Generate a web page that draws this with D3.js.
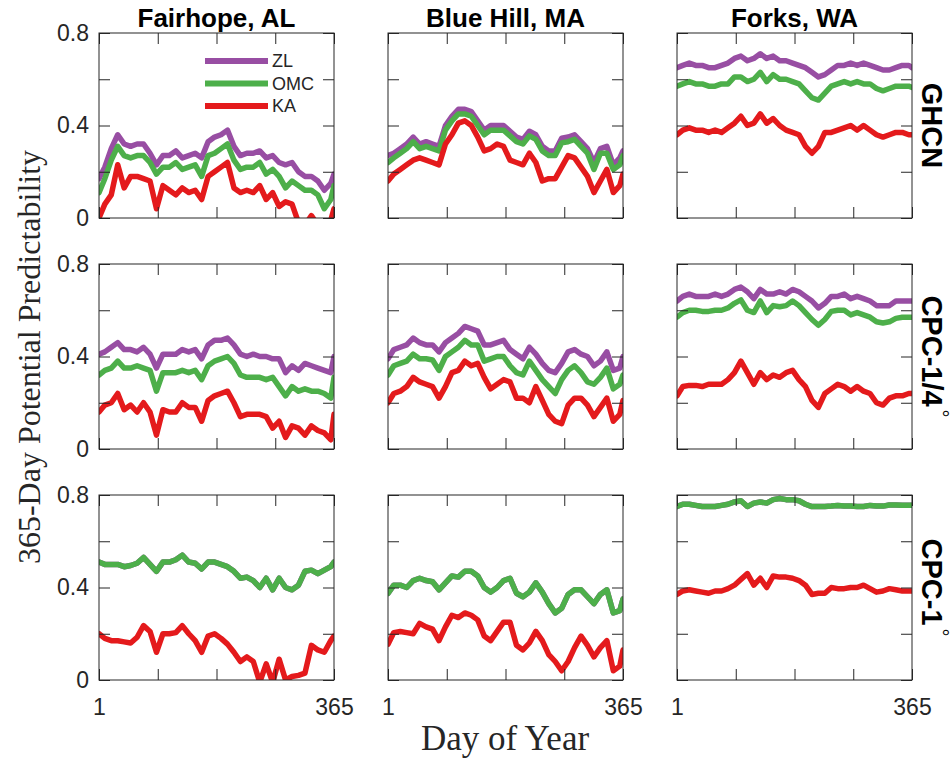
<!DOCTYPE html>
<html>
<head>
<meta charset="utf-8">
<script src="https://cdn.jsdelivr.net/npm/d3@7"></script>
<style>
	body { margin: 0; background: #fff; }
	svg { display: block; }
</style>
</head>
<body>
<div id="chart"></div>
<script>
// sample days (x values) shared by every series
const days = [1, 10, 20, 30, 40, 50, 60, 70, 80, 90, 100, 110, 120, 130, 140, 150, 160, 170, 180, 190, 200, 210, 220, 230, 240, 250, 260, 270, 280, 290, 300, 310, 320, 330, 340, 350, 360, 365];

const sites = ['Fairhope, AL', 'Blue Hill, MA', 'Forks, WA'];
const datasets = ['GHCN', 'CPC-1/4', 'CPC-1'];
const seriesNames = ['ZL', 'OMC', 'KA'];
const yTicks = [0, 0.2, 0.4, 0.6, 0.8];
const xTicks = [1, 92, 183, 274, 365];

// GHCN row
const fairhopeGhcnZL = [0.17,0.22,0.30,0.36,0.32,0.31,0.32,0.32,0.28,0.23,0.27,0.27,0.29,0.26,0.27,0.28,0.26,0.33,0.35,0.36,0.38,0.31,0.27,0.28,0.28,0.29,0.26,0.27,0.24,0.23,0.24,0.20,0.18,0.18,0.16,0.12,0.15,0.19];
const fairhopeGhcnOMC = [0.11,0.17,0.25,0.31,0.27,0.26,0.27,0.27,0.24,0.19,0.22,0.22,0.24,0.21,0.22,0.23,0.18,0.27,0.28,0.30,0.32,0.25,0.21,0.22,0.22,0.24,0.19,0.21,0.18,0.13,0.16,0.14,0.12,0.12,0.10,0.04,0.08,0.14];
const fairhopeGhcnKA = [0.00,0.06,0.10,0.23,0.13,0.18,0.18,0.17,0.16,0.04,0.14,0.12,0.10,0.13,0.11,0.12,0.08,0.18,0.20,0.22,0.24,0.13,0.11,0.12,0.11,0.14,0.08,0.11,0.05,0.07,0.06,-0.02,-0.03,0.01,-0.03,-0.04,-0.01,0.04];

const blueHillGhcnZL = [0.27,0.28,0.30,0.32,0.35,0.32,0.33,0.32,0.31,0.40,0.44,0.47,0.47,0.46,0.42,0.38,0.40,0.40,0.40,0.375,0.35,0.34,0.375,0.36,0.31,0.29,0.29,0.345,0.35,0.36,0.33,0.30,0.24,0.30,0.31,0.23,0.26,0.29];
const blueHillGhcnOMC = [0.24,0.26,0.28,0.30,0.33,0.30,0.31,0.30,0.29,0.38,0.42,0.45,0.45,0.44,0.40,0.36,0.38,0.38,0.38,0.355,0.33,0.32,0.355,0.34,0.29,0.27,0.27,0.325,0.33,0.34,0.31,0.28,0.21,0.28,0.28,0.21,0.23,0.27];
const blueHillGhcnKA = [0.16,0.19,0.21,0.23,0.25,0.26,0.25,0.24,0.23,0.32,0.36,0.41,0.42,0.40,0.35,0.29,0.30,0.32,0.31,0.25,0.24,0.23,0.28,0.24,0.16,0.17,0.17,0.22,0.27,0.26,0.22,0.18,0.11,0.16,0.21,0.11,0.14,0.19];

const forksGhcnZL = [0.65,0.66,0.67,0.66,0.66,0.65,0.65,0.66,0.67,0.69,0.70,0.68,0.69,0.71,0.69,0.70,0.68,0.68,0.67,0.66,0.65,0.63,0.61,0.62,0.64,0.66,0.66,0.67,0.66,0.67,0.66,0.65,0.64,0.64,0.65,0.66,0.66,0.65];
const forksGhcnOMC = [0.57,0.58,0.59,0.58,0.58,0.57,0.57,0.58,0.58,0.61,0.61,0.59,0.60,0.63,0.59,0.62,0.60,0.60,0.59,0.58,0.55,0.52,0.51,0.54,0.57,0.58,0.59,0.58,0.59,0.58,0.58,0.56,0.55,0.56,0.57,0.57,0.57,0.565];
const forksGhcnKA = [0.36,0.38,0.39,0.38,0.38,0.37,0.38,0.37,0.39,0.41,0.44,0.40,0.41,0.45,0.41,0.43,0.40,0.38,0.37,0.36,0.31,0.28,0.31,0.37,0.37,0.38,0.39,0.40,0.38,0.40,0.38,0.36,0.35,0.36,0.37,0.37,0.36,0.36];

// CPC-1/4 deg row
const fairhopeCpcQZL = [0.41,0.42,0.44,0.46,0.43,0.43,0.42,0.44,0.41,0.35,0.41,0.41,0.41,0.43,0.42,0.43,0.39,0.45,0.47,0.47,0.48,0.45,0.41,0.40,0.41,0.40,0.40,0.39,0.39,0.33,0.36,0.34,0.37,0.36,0.35,0.34,0.33,0.40];
const fairhopeCpcQOMC = [0.32,0.34,0.35,0.38,0.35,0.35,0.36,0.35,0.34,0.25,0.33,0.33,0.33,0.34,0.33,0.34,0.30,0.36,0.38,0.39,0.40,0.37,0.32,0.31,0.31,0.31,0.30,0.31,0.27,0.23,0.27,0.25,0.26,0.25,0.25,0.24,0.22,0.31];
const fairhopeCpcQKA = [0.16,0.19,0.20,0.24,0.17,0.19,0.16,0.20,0.16,0.06,0.17,0.16,0.16,0.20,0.18,0.18,0.12,0.21,0.23,0.24,0.25,0.20,0.14,0.15,0.15,0.15,0.14,0.09,0.12,0.05,0.10,0.09,0.06,0.10,0.08,0.07,0.04,0.15];

const blueHillCpcQZL = [0.39,0.43,0.44,0.45,0.48,0.46,0.45,0.45,0.42,0.46,0.48,0.50,0.53,0.52,0.51,0.45,0.45,0.46,0.47,0.43,0.41,0.39,0.44,0.41,0.37,0.34,0.33,0.37,0.42,0.43,0.41,0.40,0.36,0.38,0.42,0.34,0.35,0.40];
const blueHillCpcQOMC = [0.32,0.36,0.37,0.38,0.41,0.39,0.39,0.385,0.34,0.40,0.42,0.44,0.47,0.45,0.45,0.38,0.39,0.40,0.40,0.36,0.33,0.32,0.38,0.34,0.30,0.27,0.24,0.30,0.34,0.36,0.33,0.29,0.28,0.31,0.35,0.26,0.28,0.32];
const blueHillCpcQKA = [0.20,0.24,0.25,0.27,0.31,0.29,0.28,0.27,0.22,0.27,0.33,0.34,0.38,0.36,0.37,0.31,0.26,0.28,0.30,0.29,0.22,0.22,0.20,0.27,0.21,0.15,0.12,0.11,0.19,0.22,0.22,0.19,0.14,0.18,0.22,0.12,0.15,0.21];

const forksCpcQZL = [0.64,0.66,0.67,0.66,0.66,0.66,0.67,0.66,0.67,0.69,0.70,0.68,0.65,0.69,0.67,0.67,0.68,0.67,0.69,0.68,0.66,0.64,0.61,0.63,0.66,0.66,0.67,0.65,0.66,0.65,0.64,0.62,0.62,0.62,0.64,0.64,0.64,0.64];
const forksCpcQOMC = [0.57,0.59,0.60,0.60,0.595,0.595,0.60,0.60,0.61,0.63,0.645,0.60,0.59,0.64,0.59,0.62,0.615,0.62,0.64,0.62,0.59,0.56,0.535,0.56,0.595,0.60,0.60,0.58,0.59,0.58,0.57,0.55,0.545,0.55,0.565,0.57,0.57,0.57];
const forksCpcQKA = [0.23,0.27,0.275,0.275,0.27,0.28,0.28,0.28,0.30,0.33,0.38,0.33,0.28,0.33,0.30,0.32,0.31,0.33,0.34,0.30,0.27,0.21,0.18,0.24,0.26,0.28,0.27,0.25,0.27,0.25,0.24,0.20,0.19,0.22,0.23,0.23,0.24,0.24];

// CPC-1 deg row (ZL sits right under OMC)
const fairhopeCpc1ZL = [0.51,0.50,0.50,0.50,0.49,0.495,0.505,0.53,0.50,0.47,0.51,0.51,0.52,0.54,0.51,0.505,0.48,0.51,0.51,0.50,0.49,0.47,0.44,0.445,0.43,0.40,0.44,0.39,0.44,0.40,0.39,0.41,0.47,0.475,0.46,0.475,0.49,0.51];
const fairhopeCpc1OMC = [0.51,0.50,0.50,0.50,0.49,0.495,0.505,0.53,0.50,0.47,0.51,0.51,0.52,0.54,0.51,0.505,0.48,0.51,0.51,0.50,0.49,0.47,0.44,0.445,0.43,0.40,0.44,0.39,0.44,0.40,0.39,0.41,0.47,0.475,0.46,0.475,0.49,0.51];
const fairhopeCpc1KA = [0.20,0.18,0.17,0.17,0.165,0.16,0.185,0.235,0.21,0.12,0.20,0.20,0.205,0.235,0.20,0.17,0.12,0.19,0.20,0.18,0.155,0.12,0.08,0.10,0.08,-0.01,0.07,-0.01,0.09,0.0,0.015,0.02,0.03,0.15,0.13,0.12,0.17,0.19];

const blueHillCpc1ZL = [0.375,0.41,0.41,0.40,0.43,0.44,0.43,0.425,0.39,0.42,0.45,0.445,0.47,0.47,0.45,0.40,0.38,0.40,0.43,0.44,0.375,0.36,0.38,0.42,0.38,0.33,0.29,0.31,0.37,0.39,0.39,0.36,0.33,0.37,0.39,0.29,0.30,0.35];
const blueHillCpc1OMC = [0.375,0.41,0.41,0.40,0.43,0.44,0.43,0.425,0.39,0.42,0.45,0.445,0.47,0.47,0.45,0.40,0.38,0.40,0.43,0.44,0.375,0.36,0.38,0.42,0.38,0.33,0.29,0.31,0.37,0.39,0.39,0.36,0.33,0.37,0.39,0.29,0.30,0.35];
const blueHillCpc1KA = [0.155,0.205,0.21,0.205,0.20,0.245,0.23,0.22,0.17,0.23,0.28,0.27,0.29,0.28,0.26,0.19,0.17,0.21,0.25,0.25,0.15,0.13,0.16,0.21,0.17,0.11,0.08,0.04,0.08,0.14,0.19,0.15,0.10,0.14,0.17,0.04,0.06,0.13];

const forksCpc1ZL = [0.75,0.76,0.76,0.755,0.75,0.75,0.75,0.755,0.76,0.77,0.775,0.75,0.765,0.77,0.765,0.78,0.785,0.78,0.78,0.775,0.76,0.75,0.75,0.75,0.752,0.755,0.752,0.752,0.75,0.75,0.755,0.752,0.752,0.757,0.757,0.756,0.756,0.756];
const forksCpc1OMC = [0.75,0.76,0.76,0.755,0.75,0.75,0.75,0.755,0.76,0.77,0.775,0.75,0.765,0.77,0.765,0.78,0.785,0.78,0.78,0.775,0.76,0.75,0.75,0.75,0.752,0.755,0.752,0.752,0.75,0.75,0.755,0.752,0.752,0.757,0.757,0.756,0.756,0.756];
const forksCpc1KA = [0.37,0.385,0.39,0.385,0.38,0.375,0.385,0.385,0.395,0.41,0.435,0.46,0.41,0.44,0.40,0.45,0.445,0.445,0.44,0.43,0.41,0.37,0.375,0.375,0.40,0.395,0.395,0.40,0.40,0.41,0.395,0.38,0.385,0.395,0.39,0.385,0.385,0.385];

// grid of panels: [row][col] -> [ZL, OMC, KA]
const panelSeries = [
	[[fairhopeGhcnZL, fairhopeGhcnOMC, fairhopeGhcnKA], [blueHillGhcnZL, blueHillGhcnOMC, blueHillGhcnKA], [forksGhcnZL, forksGhcnOMC, forksGhcnKA]],
	[[fairhopeCpcQZL, fairhopeCpcQOMC, fairhopeCpcQKA], [blueHillCpcQZL, blueHillCpcQOMC, blueHillCpcQKA], [forksCpcQZL, forksCpcQOMC, forksCpcQKA]],
	[[fairhopeCpc1ZL, fairhopeCpc1OMC, fairhopeCpc1KA], [blueHillCpc1ZL, blueHillCpc1OMC, blueHillCpc1KA], [forksCpc1ZL, forksCpc1OMC, forksCpc1KA]]
];

const colors = { ZL: '#984ea3', OMC: '#4daf4a', KA: '#e41a1c' };

const width = 952, height = 760;
const colLeft = [99, 388, 677];
const rowTop = [33, 264, 495];
const pw = 235, ph = 185;
const axisColor = '#262626';
const sans = '"Liberation Sans", Arial, Helvetica, sans-serif';
const serif = '"Liberation Serif", "Times New Roman", serif';

const svg = d3.select('#chart').append('svg')
	.attr('width', width)
	.attr('height', height);

const xScale = d3.scaleLinear().domain([1, 365]).range([0, pw]);
const yScale = d3.scaleLinear().domain([0, 0.8]).range([ph, 0]);

const line = d3.line()
	.x(d => xScale(d[0]))
	.y(d => yScale(d[1]));

svg.append('defs').append('clipPath')
	.attr('id', 'panel-clip')
	.append('rect')
	.attr('width', pw)
	.attr('height', ph);

datasets.forEach((ds, r) => {
	sites.forEach((site, c) => {
		const g = svg.append('g')
			.attr('transform', `translate(${colLeft[c]}, ${rowTop[r]})`);

		// series lines, ZL first so OMC and KA sit on top
		const lines = g.append('g').attr('clip-path', 'url(#panel-clip)');
		seriesNames.forEach((name, i) => {
			const vals = panelSeries[r][c][i];
			lines.append('path')
				.datum(days.map((d, k) => [d, vals[k]]))
				.attr('fill', 'none')
				.attr('stroke', colors[name])
				.attr('stroke-width', 5.5)
				.attr('stroke-linejoin', 'round')
				.attr('stroke-linecap', 'round')
				.attr('d', line);
		});

		// inward ticks on all four sides
		const bottom = d3.axisBottom(xScale).tickValues(xTicks).tickSizeInner(-11).tickSizeOuter(0).tickPadding(19)
			.tickFormat(d => (r === 2 && (d === 1 || d === 365)) ? d : '');
		const top = d3.axisTop(xScale).tickValues(xTicks).tickSizeInner(-11).tickSizeOuter(0).tickFormat('');
		const left = d3.axisLeft(yScale).tickValues(yTicks).tickSizeInner(-11).tickSizeOuter(0).tickPadding(10)
			.tickFormat(d => (c === 0 && (d === 0 || d === 0.4 || d === 0.8)) ? (d === 0 ? '0' : d3.format('.1f')(d)) : '');
		const right = d3.axisRight(yScale).tickValues(yTicks).tickSizeInner(-11).tickSizeOuter(0).tickFormat('');

		[
			[bottom, `translate(0, ${ph})`],
			[top, 'translate(0, 0)'],
			[left, 'translate(0, 0)'],
			[right, `translate(${pw}, 0)`]
		].forEach(([ax, tr]) => {
			const a = g.append('g').attr('transform', tr).call(ax);
			a.select('.domain').remove();
			a.selectAll('line').attr('stroke', axisColor).attr('stroke-width', 1);
			a.selectAll('text')
				.attr('fill', axisColor)
				.style('font-family', sans)
				.style('font-size', '23px');
		});

		g.append('rect')
			.attr('width', pw)
			.attr('height', ph)
			.attr('fill', 'none')
			.attr('stroke', axisColor)
			.attr('stroke-width', 1);

		// column titles
		if (r === 0) {
			svg.append('text')
				.attr('x', colLeft[c] + pw / 2)
				.attr('y', 27)
				.attr('text-anchor', 'middle')
				.style('font-family', sans)
				.style('font-weight', 'bold')
				.style('font-size', '26px')
				.attr('fill', '#000')
				.text(site);
		}
	});

	// row labels on the right, reading downward
	const rl = svg.append('text')
		.attr('transform', `translate(922, ${rowTop[r] + ph / 2}) rotate(90)`)
		.attr('text-anchor', 'middle')
		.style('font-family', sans)
		.style('font-weight', 'bold')
		.style('font-size', '29px')
		.attr('fill', '#000');
	rl.append('tspan').text(ds);
	if (ds !== 'GHCN') {
		rl.append('tspan')
			.attr('dx', 3)
			.attr('dy', -12)
			.style('font-weight', 'normal')
			.style('font-size', '20px')
			.text('\u00b0');
	}
});

// legend in the first panel
const legend = svg.append('g').attr('transform', `translate(${colLeft[0]}, ${rowTop[0]})`);
seriesNames.forEach((name, i) => {
	const ly = 28 + i * 22.5;
	legend.append('line')
		.attr('x1', 106).attr('x2', 169)
		.attr('y1', ly).attr('y2', ly)
		.attr('stroke', colors[name])
		.attr('stroke-width', 6);
	legend.append('text')
		.attr('x', 173)
		.attr('y', ly)
		.attr('dy', '0.35em')
		.style('font-family', sans)
		.style('font-size', '18px')
		.attr('fill', axisColor)
		.text(name);
});

// axis titles
svg.append('text')
	.attr('transform', 'translate(40, 357) rotate(-90)')
	.attr('text-anchor', 'middle')
	.style('font-family', serif)
	.style('font-size', '32px')
	.attr('fill', axisColor)
	.text('365-Day Potential Predictability');

svg.append('text')
	.attr('x', 505)
	.attr('y', 750)
	.attr('text-anchor', 'middle')
	.style('font-family', serif)
	.style('font-size', '35px')
	.attr('fill', axisColor)
	.text('Day of Year');
</script>
</body>
</html>
